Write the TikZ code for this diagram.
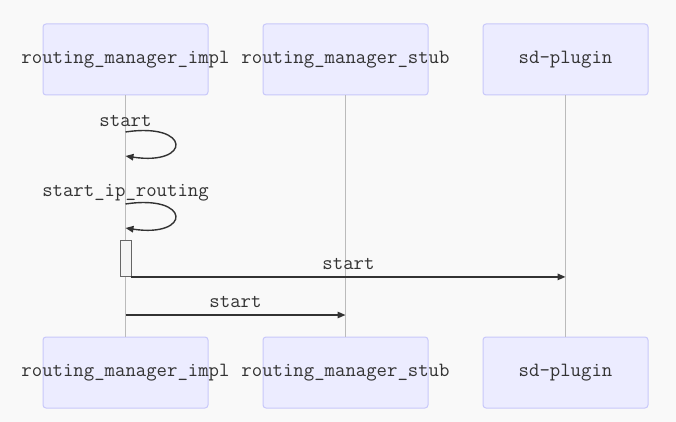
\documentclass[tikz,border=0pt]{standalone}
\usepackage{fontspec}
\usepackage{xcolor}
\usetikzlibrary{arrows.meta}
\definecolor{bgcol}{HTML}{F9F9F9}
\definecolor{actorfill}{HTML}{ECECFF}
\definecolor{actorline}{HTML}{C8C8FA}
\definecolor{lifecol}{HTML}{BBBBBB}
\definecolor{msgcol}{HTML}{333333}
\definecolor{actfill}{HTML}{F4F4F4}
\definecolor{actline}{HTML}{666666}

\begin{document}
\begin{tikzpicture}[x=1pt, y=-1pt,
    actor/.style={draw=actorline, fill=actorfill, line width=1pt, rounded corners=3pt, minimum width=165pt, minimum height=71pt, inner sep=0pt, text=msgcol, font=\ttfamily\fontsize{20.2}{22}\selectfont},
    life/.style={draw=lifecol, line width=0.8pt},
    msg/.style={draw=msgcol, line width=1.4pt, -{Triangle[length=8pt, width=6.5pt]}},
    msglabel/.style={text=msgcol, inner sep=0pt, font=\ttfamily\fontsize{20.2}{22}\selectfont}]
    \path[fill=bgcol] (0, 0) rectangle (676, 422);
    \useasboundingbox (0, 0) rectangle (676, 422);

    % participants
    \node[actor] (impltop) at (125.5, 59.5) {\makebox[0pt]{routing\_manager\_impl}};
    \node[actor] (stubtop) at (345.5, 59.5) {\makebox[0pt]{routing\_manager\_stub}};
    \node[actor] (sdtop) at (565.5, 59.5) {\makebox[0pt]{sd-plugin}};
    \node[actor] (implbot) at (125.5, 372.5) {\makebox[0pt]{routing\_manager\_impl}};
    \node[actor] (stubbot) at (345.5, 372.5) {\makebox[0pt]{routing\_manager\_stub}};
    \node[actor] (sdbot) at (565.5, 372.5) {\makebox[0pt]{sd-plugin}};

    % lifelines
    \draw[life] (impltop.south) -- (implbot.north);
    \draw[life] (stubtop.south) -- (stubbot.north);
    \draw[life] (sdtop.south) -- (sdbot.north);

    % self calls
    \coordinate (loopa) at (impltop.south |- 0, 132);
    \coordinate (loopb) at (impltop.south |- 0, 204);
    \node[msglabel] (starta) at (impltop.south |- 0, 121) {start};
    \draw[msg] (loopa) .. controls +(66, -10) and +(66, 10) .. ++(0, 24);
    \node[msglabel] (startip) at (impltop.south |- 0, 193) {start\_ip\_routing};
    \draw[msg] (loopb) .. controls +(66, -10) and +(66, 10) .. ++(0, 24);

    % activation
    \node[draw=actline, fill=actfill, line width=0.8pt, minimum width=11pt, minimum height=36pt, inner sep=0pt] (act) at (125.5, 258.5) {};

    % messages
    \coordinate (sdin) at (sdtop.south |- act.south);
    \draw[msg] (act.south east) -- node[msglabel, above=7pt] (startb) {start} (sdin);
    \coordinate (implout) at (impltop.south |- 0, 315);
    \coordinate (stubin) at (stubtop.south |- 0, 315);
    \draw[msg] (implout) -- node[msglabel, above=7pt] (startc) {start} (stubin);
\end{tikzpicture}
\end{document}
